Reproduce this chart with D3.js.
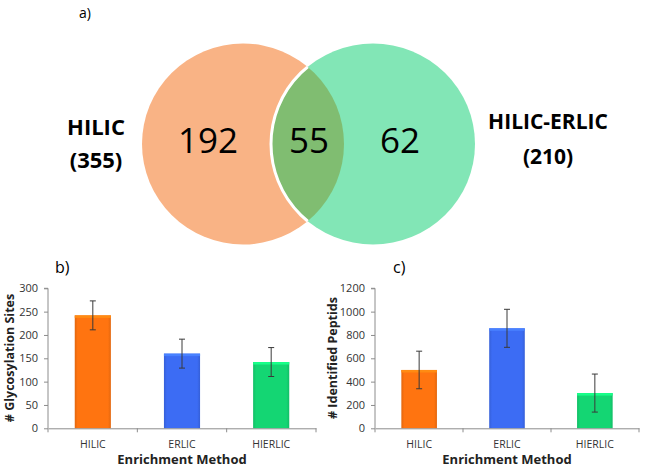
<!DOCTYPE html>
<html><head><meta charset="utf-8">
<script src="https://cdn.jsdelivr.net/npm/d3@7"></script>
<style>body{margin:0;background:#fff}svg{display:block}text{font-family:"Open Sans",sans-serif}</style>
</head><body><svg id="c" width="645" height="470"></svg>
<script>
// Venn data
const vennSets = ["HILIC", "HILIC-ERLIC"];
const vennTotals = [355, 210];
const vennRegions = [192, 55, 62]; // only-left, overlap, only-right

// Bar chart data
const methods = ["HILIC", "ERLIC", "HIERLIC"];
const glycoSites = [242, 160, 142];
const glycoErr = [31, 31, 31];
const peptides = [500, 857, 302];
const peptidesErr = [161, 163, 163];
const glycoTicks = [0, 50, 100, 150, 200, 250, 300];
const pepTicks = [0, 200, 400, 600, 800, 1000, 1200];
const barColors = ["#FF7410", "#3C6CF4", "#14D673"];

const svg = d3.select("#c");
const defs = svg.append("defs");

// ---------- Venn ----------
const vx = d3.scaleLinear().domain([0, 1]).range([243, 373]);
const ell = [{cx: vx(0), cy: 144, rx: 101, ry: 100.5, fill: "#F9B385"},
             {cx: vx(1), cy: 144, rx: 102, ry: 100.5, fill: "#82E6B6"}];
defs.append("clipPath").attr("id", "clipL").append("ellipse")
  .attr("cx", ell[0].cx).attr("cy", ell[0].cy).attr("rx", ell[0].rx).attr("ry", ell[0].ry);
const gv = svg.append("g");
gv.selectAll("ellipse.set").data(ell).join("ellipse").attr("class", "set")
  .attr("cx", d => d.cx).attr("cy", d => d.cy).attr("rx", d => d.rx).attr("ry", d => d.ry)
  .attr("fill", d => d.fill);
gv.append("ellipse").attr("clip-path", "url(#clipL)")
  .attr("cx", ell[1].cx).attr("cy", ell[1].cy).attr("rx", ell[1].rx).attr("ry", ell[1].ry)
  .attr("fill", "#80BD71").attr("stroke", "#fff").attr("stroke-width", 3);

function ctext(g, x, y, str, size, weight, sx) {
  g.append("text").attr("transform", `translate(${x},${y}) scale(${sx},1)`)
    .attr("text-anchor", "middle").attr("font-size", size).attr("font-weight", weight)
    .attr("fill", "#000").text(str);
}
const regionX = [208, 309, 400];
vennRegions.forEach((v, i) => ctext(gv, regionX[i], 153, String(v), 35, 400, 1));
ctext(gv, 96, 135, vennSets[0], 22, 700, 1);
ctext(gv, 96, 168, "(" + vennTotals[0] + ")", 22, 700, 1);
ctext(gv, 548, 129, vennSets[1], 21, 700, 1);
ctext(gv, 548, 164, "(" + vennTotals[1] + ")", 21, 700, 1);
svg.append("text").attr("x", 79).attr("y", 18).attr("font-size", 14).attr("fill", "#000").text("a)");

// ---------- Bars ----------
function grad(id, c) {
  const g = defs.append("linearGradient").attr("id", id).attr("x1", 0).attr("x2", 1).attr("y1", 0).attr("y2", 0);
  const dk = d3.color(c).darker(0.35);
  g.append("stop").attr("offset", "0%").attr("stop-color", dk);
  g.append("stop").attr("offset", "8%").attr("stop-color", c);
  g.append("stop").attr("offset", "92%").attr("stop-color", c);
  g.append("stop").attr("offset", "100%").attr("stop-color", dk);
}
barColors.forEach((c, i) => grad("bg" + i, c));

function barChart(opt) {
  const g = svg.append("g");
  const x = d3.scaleBand().domain(methods).range([opt.x0, opt.x1]).paddingInner(0.595).paddingOuter(0.3);
  const y = d3.scaleLinear().domain([0, opt.ticks[opt.ticks.length - 1]]).range([428.3, 288.3]);
  g.selectAll("rect.bar").data(methods).join("rect").attr("class", "bar")
    .attr("x", d => x(d)).attr("width", x.bandwidth())
    .attr("y", (d, i) => y(opt.values[i])).attr("height", (d, i) => y(0) - y(opt.values[i]))
    .attr("fill", (d, i) => `url(#bg${i})`);
  g.selectAll("rect.top").data(methods).join("rect").attr("class", "top")
    .attr("x", d => x(d)).attr("width", x.bandwidth())
    .attr("y", (d, i) => y(opt.values[i])).attr("height", 2.5)
    .attr("fill", (d, i) => d3.color(barColors[i]).brighter(0.5));
  const eb = g.selectAll("g.err").data(methods).join("g").attr("class", "err")
    .attr("stroke", "#3a3a3a").attr("stroke-width", 1);
  eb.append("line").attr("x1", d => x(d) + x.bandwidth() / 2).attr("x2", d => x(d) + x.bandwidth() / 2)
    .attr("y1", (d, i) => y(opt.values[i] + opt.err[i])).attr("y2", (d, i) => y(opt.values[i] - opt.err[i]));
  [1, -1].forEach(s => {
    eb.append("line").attr("x1", d => x(d) + x.bandwidth() / 2 - 3).attr("x2", d => x(d) + x.bandwidth() / 2 + 3)
      .attr("y1", (d, i) => y(opt.values[i] + s * opt.err[i])).attr("y2", (d, i) => y(opt.values[i] + s * opt.err[i]));
  });
  const ya = g.append("g").attr("transform", `translate(${opt.x0},0)`)
    .call(d3.axisLeft(y).tickValues(opt.ticks).tickFormat(d3.format("d")).tickSize(4).tickPadding(6));
  ya.select(".domain").attr("stroke", "#8c8c8c").attr("d", `M-4,${y(opt.ticks[opt.ticks.length-1])}H0V${y(0)}`);
  ya.selectAll(".tick line").attr("stroke", "#8c8c8c");
  ya.selectAll("text").attr("font-size", 11).attr("fill", "#333").attr("font-family", "Open Sans");
  const xa = g.append("g").attr("transform", `translate(0,${y(0)})`)
    .call(d3.axisBottom(x).tickSize(0).tickPadding(12));
  xa.select(".domain").attr("stroke", "#8c8c8c");
  xa.selectAll("text").attr("font-size", 10.5).attr("fill", "#333").attr("font-family", "Open Sans");
  const bounds = d3.range(methods.length + 1).map(i => opt.x0 + i * (opt.x1 - opt.x0) / methods.length);
  xa.selectAll("line.bt").data(bounds).join("line").attr("class", "bt")
    .attr("x1", d => d).attr("x2", d => d).attr("y1", 0).attr("y2", 4).attr("stroke", "#8c8c8c");
  g.append("text").attr("x", (opt.x0 + opt.x1) / 2).attr("y", 464).attr("text-anchor", "middle")
    .attr("font-size", 13).attr("font-weight", 700).attr("fill", "#222").text("Enrichment Method");
  g.append("text").attr("transform", `translate(${opt.ylx},358) rotate(-90)`).attr("text-anchor", "middle")
    .attr("font-size", 12.5).attr("font-weight", 700).attr("fill", "#222").text(opt.ylabel);
  g.append("text").attr("x", opt.tagx).attr("y", 273).attr("font-size", 16).attr("fill", "#000").text(opt.tag);
}
barChart({x0: 48, x1: 316, values: glycoSites, err: glycoErr, ticks: glycoTicks, ylabel: "# Glycosylation Sites", ylx: 14, tag: "b)", tagx: 55});
barChart({x0: 375, x1: 639, values: peptides, err: peptidesErr, ticks: pepTicks, ylabel: "# Identified Peptids", ylx: 337, tag: "c)", tagx: 393});
</script></body></html>
